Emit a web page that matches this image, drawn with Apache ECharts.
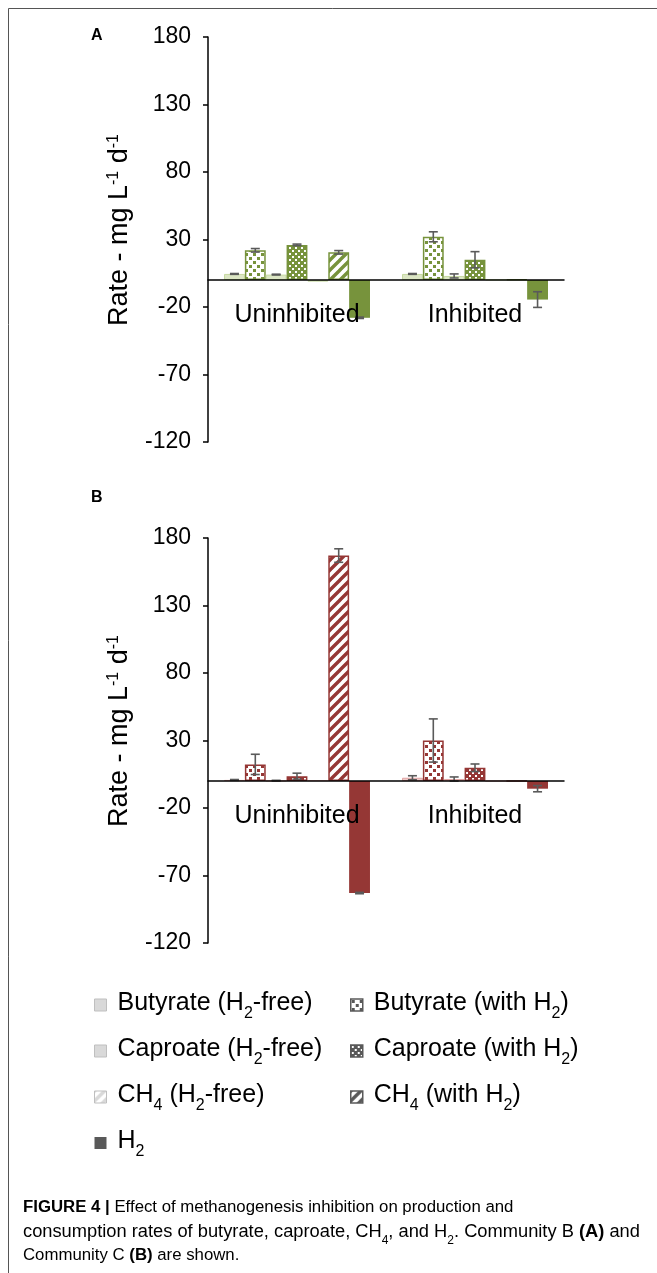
<!DOCTYPE html>
<html><head><meta charset="utf-8">
<script src="https://cdn.jsdelivr.net/npm/echarts@6/dist/echarts.min.js"></script>
<style>html,body{margin:0;padding:0;background:#fff}#c{width:657px;height:1273px}</style>
</head><body><div id="c"></div>
<script>
// ---------------- data ----------------
const categories = ['Uninhibited', 'Inhibited'];
const seriesNames = ['Butyrate (H2-free)', 'Butyrate (with H2)', 'Caproate (H2-free)', 'Caproate (with H2)', 'CH4 (H2-free)', 'CH4 (with H2)', 'H2'];
const yMin = -120, yMax = 180, yStep = 50;   // tick labels: -120, -70, -20, 30, 80, 130, 180

// Panel A (Community B)
const butyrateFreeA = [4.5, 4.5];
const butyrateH2A   = [22, 32];
const caproateFreeA = [4, 3];
const caproateH2A   = [26, 15];
const ch4FreeA      = [-1.2, 0.3];
const ch4H2A        = [20.5, 0.3];
const h2A           = [-28, -14.5];
const butyrateFreeErrA = [0.3, 0.3];
const butyrateH2ErrA   = [1.3, 3.7];
const caproateFreeErrA = [0.3, 1.5];
const caproateH2ErrA   = [0.6, 6];
const ch4FreeErrA      = [0, 0];
const ch4H2ErrA        = [1.3, 0];
const h2ErrA           = [0.5, 5.8];

// Panel B (Community C)
const butyrateFreeB = [0.8, 2.4];
const butyrateH2B   = [12.3, 30];
const caproateFreeB = [0.3, 1.5];
const caproateH2B   = [3.6, 9.8];
const ch4FreeB      = [0.6, 0];
const ch4H2B        = [167, 0];
const h2B           = [-83, -5.7];
const butyrateFreeErrB = [0.3, 1.5];
const butyrateH2ErrB   = [7.5, 16];
const caproateFreeErrB = [0.2, 1.5];
const caproateH2ErrB   = [2.2, 2.8];
const ch4FreeErrB      = [0, 0];
const ch4H2ErrB        = [5, 0];
const h2ErrB           = [0.5, 2.3];

const valuesA = [butyrateFreeA, butyrateH2A, caproateFreeA, caproateH2A, ch4FreeA, ch4H2A, h2A];
const errorsA = [butyrateFreeErrA, butyrateH2ErrA, caproateFreeErrA, caproateH2ErrA, ch4FreeErrA, ch4H2ErrA, h2ErrA];
const valuesB = [butyrateFreeB, butyrateH2B, caproateFreeB, caproateH2B, ch4FreeB, ch4H2B, h2B];
const errorsB = [butyrateFreeErrB, butyrateH2ErrB, caproateFreeErrB, caproateH2ErrB, ch4FreeErrB, ch4H2ErrB, h2ErrB];

// ---------------- styles ----------------
const FONT = 'Liberation Sans, Arial, sans-serif';
const kinds = ['pale', 'bigdots', 'pale', 'smalldots', 'palediag', 'wideup', 'solid'];
const gapRatio = 0.18;

function makePattern(kind, main, pale) {
  const c = document.createElement('canvas');
  const s = kind === 'wideup' || kind === 'palediag' ? 10 : (kind === 'bigdots' ? 8 : 6);
  c.width = s; c.height = s;
  const g = c.getContext('2d');
  if (kind === 'bigdots') {
    g.fillStyle = '#fff'; g.fillRect(0, 0, s, s);
    g.fillStyle = main; g.fillRect(1, 1, 3, 3); g.fillRect(5, 5, 3, 3);
  } else if (kind === 'smalldots') {
    g.fillStyle = main; g.fillRect(0, 0, s, s);
    g.fillStyle = '#fff'; g.fillRect(1, 1, 2, 2); g.fillRect(4, 4, 2, 2);
  } else if (kind === 'wideup' || kind === 'palediag') {
    g.fillStyle = '#fff'; g.fillRect(0, 0, s, s);
    g.strokeStyle = kind === 'wideup' ? main : pale; g.lineWidth = 3.4;
    g.beginPath();
    for (const k of [-s, 0, s]) { g.moveTo(k - 1, s + 1); g.lineTo(k + s + 1, -1); }
    g.stroke();
  } else {
    g.fillStyle = pale; g.fillRect(0, 0, s, s);
  }
  return { image: c, repeat: 'repeat' };
}

function styleFor(kind, main, pale, paleBorder) {
  if (kind === 'solid') return { color: main };
  if (kind === 'pale') return { color: pale, borderColor: paleBorder, borderWidth: 1 };
  if (kind === 'palediag') return { color: makePattern(kind, main, pale), borderColor: paleBorder, borderWidth: 1 };
  return { color: makePattern(kind, main, pale), borderColor: main, borderWidth: 1.5 };
}

const panels = [
  { main: '#77933c', pale: '#dce6c4', paleBorder: '#c6d9a0', values: valuesA, errors: errorsA },
  { main: '#953735', pale: '#eec9c8', paleBorder: '#e0a3a2', values: valuesB, errors: errorsB }
];

const legendLabels = {
  'Butyrate (H2-free)': '{f|Butyrate (H}{s|2}{t|-free)}',
  'Butyrate (with H2)': '{f|Butyrate (with H}{s|2}{t|)}',
  'Caproate (H2-free)': '{f|Caproate (H}{s|2}{t|-free)}',
  'Caproate (with H2)': '{f|Caproate (with H}{s|2}{t|)}',
  'CH4 (H2-free)': '{f|CH}{s|4}{t| (H}{s|2}{t|-free)}',
  'CH4 (with H2)': '{f|CH}{s|4}{t| (with H}{s|2}{t|)}',
  'H2': '{f|H}{s|2}'
};
const legendRich = {
  f: { fontFamily: FONT, fontSize: 25, color: '#000', lineHeight: 28, verticalAlign: 'top', padding: [0, 0, 0, 6] },
  t: { fontFamily: FONT, fontSize: 25, color: '#000', lineHeight: 28, verticalAlign: 'top' },
  s: { fontFamily: FONT, fontSize: 16, color: '#000', lineHeight: 15, verticalAlign: 'top', padding: [15, 0, 0, 0] }
};
function legendItem(name, i) {
  return { name: name, itemStyle: styleFor(kinds[i], '#595959', '#d9d9d9', '#bfbfbf') };
}

// ---------------- option ----------------
const grids = [
  { left: 208, top: 37, width: 356, height: 405 },
  { left: 208, top: 538, width: 356, height: 405 }
];

const series = [];
panels.forEach((p, pi) => {
  seriesNames.forEach((name, si) => {
    series.push({
      type: 'bar', name: name, xAxisIndex: pi, yAxisIndex: pi,
      data: p.values[si], barGap: '0%', barCategoryGap: (gapRatio * 100) + '%',
      itemStyle: styleFor(kinds[si], p.main, p.pale, p.paleBorder),
      emphasis: { disabled: true }, z: 2
    });
  });
  const errData = [];
  seriesNames.forEach((name, si) => {
    categories.forEach((c, ci) => {
      const e = p.errors[si][ci];
      if (e > 0) errData.push([ci, p.values[si][ci], e, si]);
    });
  });
  series.push({
    type: 'custom', xAxisIndex: pi, yAxisIndex: pi, z: 4, clip: false,
    encode: { x: 0, y: 1 },
    data: errData,
    renderItem: function (params, api) {
      const ci = api.value(0), v = api.value(1), e = api.value(2), si = api.value(3);
      const center = api.coord([ci, v]);
      const band = api.size([1, 0])[0];
      const inner = band * (1 - gapRatio);
      const bw = inner / seriesNames.length;
      const x = center[0] - inner / 2 + bw * (si + 0.5);
      const yt = api.coord([ci, v + e])[1];
      const yb = api.coord([ci, v - e])[1];
      const hw = 4.5;
      const st = { stroke: '#5a5a5a', lineWidth: 1.6 };
      return {
        type: 'group', children: [
          { type: 'line', shape: { x1: x, y1: yt, x2: x, y2: yb }, style: st },
          { type: 'line', shape: { x1: x - hw, y1: yt, x2: x + hw, y2: yt }, style: st },
          { type: 'line', shape: { x1: x - hw, y1: yb, x2: x + hw, y2: yb }, style: st }
        ]
      };
    }
  });
});

const xAxes = grids.map((g, i) => ({
  type: 'category', gridIndex: i, data: categories, z: 5,
  axisLine: { onZero: true, lineStyle: { color: '#000', width: 1.5 } },
  axisTick: { show: false },
  axisLabel: { fontFamily: FONT, fontSize: 25, color: '#000', margin: -139 },
  splitLine: { show: false }
}));
const yAxes = grids.map((g, i) => ({
  type: 'value', gridIndex: i, min: yMin, max: yMax, interval: yStep,
  axisLine: { show: true, lineStyle: { color: '#000', width: 1.5 } },
  axisTick: { show: true, length: 5, lineStyle: { color: '#000', width: 1.5 } },
  axisLabel: { fontFamily: FONT, fontSize: 23, color: '#000', margin: 17 },
  splitLine: { show: false }
}));

const axisNameRich = {
  t: { fontFamily: FONT, fontSize: 27, color: '#000', lineHeight: 30, verticalAlign: 'top' },
  p: { fontFamily: FONT, fontSize: 16, color: '#000', lineHeight: 16, verticalAlign: 'top' }
};
const axisNameText = '{t|Rate - mg L}{p|-1}{t| d}{p|-1}';
const captionRich = {
  b: { fontFamily: FONT, fontSize: 16.8, fontWeight: 'bold', color: '#222', lineHeight: 24, verticalAlign: 'top' },
  n: { fontFamily: FONT, fontSize: 16.8, color: '#222', lineHeight: 24, verticalAlign: 'top' },
  b2: { fontFamily: FONT, fontSize: 18.3, fontWeight: 'bold', color: '#222', lineHeight: 24, verticalAlign: 'top' },
  n2: { fontFamily: FONT, fontSize: 18.3, color: '#222', lineHeight: 24, verticalAlign: 'top' },
  s: { fontFamily: FONT, fontSize: 12, color: '#222', lineHeight: 12, verticalAlign: 'top', padding: [12, 0, 0, 0] }
};
const captionText =
  '{b|FIGURE 4 |}{n| Effect of methanogenesis inhibition on production and}\n' +
  '{n2|consumption rates of butyrate, caproate, CH}{s|4}{n2|, and H}{s|2}{n2|. Community B }{b2|(A)}{n2| and}\n' +
  '{n|Community C }{b|(B)}{n| are shown.}';

const option = {
  backgroundColor: '#fff',
  animation: false,
  grid: grids,
  xAxis: xAxes,
  yAxis: yAxes,
  legend: [
    {
      orient: 'vertical', left: 94, top: 991, padding: 0, itemGap: 15,
      itemWidth: 12, itemHeight: 12, icon: 'rect', selectedMode: false,
      data: [0, 2, 4, 6].map(i => legendItem(seriesNames[i], i)),
      formatter: n => legendLabels[n], textStyle: { rich: legendRich }
    },
    {
      orient: 'vertical', left: 350, top: 991, padding: 0, itemGap: 15,
      itemWidth: 12, itemHeight: 12, icon: 'rect', selectedMode: false,
      data: [1, 3, 5].map(i => legendItem(seriesNames[i], i)),
      formatter: n => legendLabels[n], textStyle: { rich: legendRich }
    }
  ],
  graphic: [
    { type: 'polyline', shape: { points: [[8.5, 1273], [8.5, 8.5], [657, 8.5]] }, style: { stroke: '#555', lineWidth: 1, fill: null } },
    { type: 'text', x: 91, y: 28, style: { text: 'A', fontFamily: FONT, fontSize: 16, fontWeight: 'bold', fill: '#000' } },
    { type: 'text', x: 91, y: 490, style: { text: 'B', fontFamily: FONT, fontSize: 16, fontWeight: 'bold', fill: '#000' } },
    { type: 'text', x: 121, y: 230, rotation: Math.PI / 2, style: { text: axisNameText, rich: axisNameRich, align: 'center', verticalAlign: 'middle' } },
    { type: 'text', x: 121, y: 731, rotation: Math.PI / 2, style: { text: axisNameText, rich: axisNameRich, align: 'center', verticalAlign: 'middle' } },
    { type: 'text', x: 23, y: 1199, style: { text: captionText, rich: captionRich, align: 'left', verticalAlign: 'top' } }
  ],
  series: series
};

const chart = echarts.init(document.getElementById('c'), null, { renderer: 'canvas' });
chart.setOption(option);
</script>
</body></html>
